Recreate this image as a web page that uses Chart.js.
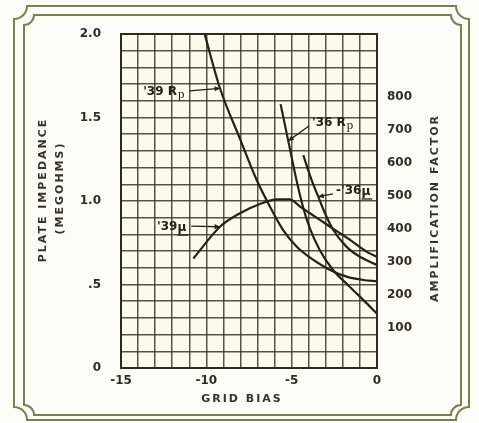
<!DOCTYPE html>
<html>
<head>
<meta charset="utf-8">
<script src="https://cdn.jsdelivr.net/npm/chart.js@4/dist/chart.umd.min.js"></script>
<style>
  html, body { margin: 0; padding: 0; background: #fdfdf7; }
  #caixa { position: relative; width: 479px; height: 423px; }
</style>
</head>
<body>
<div id="caixa"><canvas id="grafico" width="479" height="423"></canvas></div>
<script>
// --- leituras do gráfico (polarização de grade no eixo X) ---
const rp39Bias = [-10.1, -9.2, -8.0, -7.05, -6.27, -5.5, -4.7, -3.73, -2.75, -1.78, -0.8, 0];
const rp39Megohms = [2.0, 1.675, 1.365, 1.126, 0.966, 0.826, 0.726, 0.647, 0.587, 0.547, 0.527, 0.52];

const mu39Bias = [-10.76, -9.2, -8.03, -6.86, -5.88, -5.1, -4.51, -3.93, -2.75, -1.58, -0.6, 0];
const mu39Factor = [311, 407, 448, 476, 490, 490, 468, 448, 407, 367, 331, 316];

const rp36Bias = [-5.65, -5.2, -4.75, -4.35, -3.95, -3.35, -2.6, -1.6, -0.6, 0];
const rp36Megohms = [1.58, 1.36, 1.14, 0.97, 0.84, 0.705, 0.59, 0.487, 0.387, 0.325];

const mu36Bias = [-4.32, -3.83, -3.44, -3.05, -2.56, -1.78, -1.0, 0];
const mu36Factor = [624, 548, 498, 448, 397, 346, 316, 291];

// rótulos dos eixos
const biasTicks = [-15, -10, -5, 0];
const impedanceTicks = [0, 0.5, 1.0, 1.5, 2.0];
const impedanceLabels = ['0', '.5', '1.0', '1.5', '2.0'];
const factorTicks = [100, 200, 300, 400, 500, 600, 700, 800];

// nomes das curvas (texto, sufixo, ponto do texto em bias/megohms, curva e ponto alvo)
const noteNames = ["'39 R", "'36 R", "-'36", "'39"];
const noteSuffix = ['p', 'p', 'µ', 'µ'];
const noteBias = [-13.7, -3.81, -2.4, -12.89];
const noteLevel = [1.653, 1.467, 1.06, 0.844];
const noteDataset = [0, 2, 3, 1];
const notePoint = [1, 1, 2, 1];
const noteSide = ['right', 'left', 'left', 'right'];

const tinta = '#22221a';
const fonte = '"DejaVu Sans", Verdana, sans-serif';

function pontos(xs, ys) {
  return xs.map((x, i) => ({ x: x, y: ys[i] }));
}

function curva(xs, ys, eixo) {
  return {
    data: pontos(xs, ys),
    yAxisID: eixo,
    borderColor: tinta,
    borderWidth: 2.2,
    pointRadius: 0,
    fill: false,
    cubicInterpolationMode: 'monotone'
  };
}

// moldura com cantos recortados
function moldura(ctx, l, t, r, b, rad) {
  ctx.beginPath();
  ctx.moveTo(l + rad, t);
  ctx.lineTo(r - rad, t);
  ctx.arc(r, t, rad, Math.PI, Math.PI / 2, true);
  ctx.lineTo(r, b - rad);
  ctx.arc(r, b, rad, -Math.PI / 2, -Math.PI, true);
  ctx.lineTo(l + rad, b);
  ctx.arc(l, b, rad, 0, -Math.PI / 2, true);
  ctx.lineTo(l, t + rad);
  ctx.arc(l, t, rad, Math.PI / 2, 0, true);
  ctx.closePath();
  ctx.stroke();
}

const fundoPlugin = {
  id: 'fundo',
  beforeDraw(chart) {
    const ctx = chart.ctx;
    const a = chart.chartArea;
    ctx.save();
    ctx.fillStyle = '#fdfdf7';
    ctx.fillRect(0, 0, chart.width, chart.height);
    ctx.strokeStyle = '#7b8052';
    ctx.lineWidth = 2;
    moldura(ctx, 14, 6, 469, 420, 13);
    moldura(ctx, 24, 15, 461, 415, 10);
    ctx.fillStyle = '#fbfcee';
    ctx.fillRect(a.left, a.top, a.right - a.left, a.bottom - a.top);
    ctx.restore();
  },
  afterDraw(chart) {
    const ctx = chart.ctx;
    const a = chart.chartArea;
    ctx.save();
    // borda do gráfico
    ctx.strokeStyle = '#2a2a20';
    ctx.lineWidth = 2;
    ctx.strokeRect(a.left, a.top, a.right - a.left, a.bottom - a.top);

    // títulos dos eixos
    ctx.fillStyle = '#33332a';
    ctx.font = 'bold 11px ' + fonte;
    ctx.letterSpacing = '2px';
    ctx.textAlign = 'center';
    ctx.textBaseline = 'middle';
    const meioY = (a.top + a.bottom) / 2;
    ctx.fillText('GRID BIAS', (a.left + a.right) / 2 - 7, a.bottom + 31);

    ctx.save();
    ctx.translate(a.left - 78, meioY - 11);
    ctx.rotate(-Math.PI / 2);
    ctx.fillText('PLATE IMPEDANCE', 0, 0);
    ctx.restore();

    ctx.save();
    ctx.translate(a.left - 61, meioY - 13);
    ctx.rotate(-Math.PI / 2);
    ctx.fillText('(MEGOHMS)', 0, 0);
    ctx.restore();

    ctx.save();
    ctx.translate(a.right + 58, meioY + 7);
    ctx.rotate(-Math.PI / 2);
    ctx.fillText('AMPLIFICATION FACTOR', 0, 0);
    ctx.restore();
    ctx.restore();
  },
  afterDatasetsDraw(chart) {
    const ctx = chart.ctx;
    const sx = chart.scales.x;
    const sy = chart.scales.y;
    ctx.save();
    ctx.fillStyle = tinta;
    ctx.strokeStyle = tinta;
    ctx.lineWidth = 1.3;
    ctx.textBaseline = 'middle';
    ctx.textAlign = 'left';
    noteNames.forEach((nome, i) => {
      const x0 = sx.getPixelForValue(noteBias[i]);
      const y0 = sy.getPixelForValue(noteLevel[i]);
      ctx.font = 'bold 12px ' + fonte;
      ctx.fillText(nome, x0, y0);
      let fim = x0 + ctx.measureText(nome).width;
      const suf = noteSuffix[i];
      if (suf === 'p') {
        ctx.font = '13px "Liberation Serif", serif';
        ctx.fillText(suf, fim + 1, y0 + 3);
        fim += ctx.measureText(suf).width + 1;
      } else {
        ctx.font = 'bold 12px ' + fonte;
        ctx.fillText(suf, fim, y0 + 1);
        const w = ctx.measureText(suf).width;
        ctx.beginPath();
        ctx.moveTo(fim, y0 + 8);
        ctx.lineTo(fim + w + 2, y0 + 8);
        ctx.stroke();
        fim += w;
      }
      // linha de chamada até a curva
      const alvo = chart.getDatasetMeta(noteDataset[i]).data[notePoint[i]];
      const ini = noteSide[i] === 'right' ? [fim + 5, y0 - 1] : [x0 - 3, y0 + 3];
      ctx.beginPath();
      ctx.moveTo(ini[0], ini[1]);
      ctx.lineTo(alvo.x, alvo.y);
      ctx.stroke();
      const ang = Math.atan2(alvo.y - ini[1], alvo.x - ini[0]);
      ctx.beginPath();
      ctx.moveTo(alvo.x, alvo.y);
      ctx.lineTo(alvo.x - 6 * Math.cos(ang - 0.45), alvo.y - 6 * Math.sin(ang - 0.45));
      ctx.lineTo(alvo.x - 6 * Math.cos(ang + 0.45), alvo.y - 6 * Math.sin(ang + 0.45));
      ctx.closePath();
      ctx.fill();
    });
    ctx.restore();
  }
};

const fonteTicks = { family: fonte, weight: 'bold', size: 12 };
const corGrade = 'rgba(52,56,40,0.85)';

new Chart(document.getElementById('grafico'), {
  type: 'line',
  data: {
    datasets: [
      curva(rp39Bias, rp39Megohms, 'y'),
      curva(mu39Bias, mu39Factor, 'y2'),
      curva(rp36Bias, rp36Megohms, 'y'),
      curva(mu36Bias, mu36Factor, 'y2')
    ]
  },
  options: {
    responsive: false,
    animation: false,
    devicePixelRatio: 1,
    layout: { padding: { top: 34, left: 0, right: 0, bottom: 0 } },
    plugins: { legend: { display: false }, tooltip: { enabled: false } },
    scales: {
      x: {
        type: 'linear',
        min: -15,
        max: 0,
        afterFit(s) { s.height = 55; },
        grid: { color: corGrade, lineWidth: 1.5, drawTicks: false },
        border: { display: false },
        ticks: {
          stepSize: 1,
          autoSkip: false,
          maxRotation: 0,
          padding: 6,
          color: '#2e2e22',
          font: fonteTicks,
          callback: (v) => biasTicks.includes(v) ? String(v) : ''
        }
      },
      y: {
        type: 'linear',
        position: 'left',
        min: 0,
        max: 2,
        afterFit(s) { s.width = 121; },
        grid: { color: corGrade, lineWidth: 1.5, drawTicks: false },
        border: { display: false },
        ticks: {
          stepSize: 0.1,
          autoSkip: false,
          padding: 20,
          color: '#2e2e22',
          font: fonteTicks,
          callback: (v) => {
            const k = Math.round(v * 2);
            return Math.abs(v - k / 2) < 1e-6 ? impedanceLabels[impedanceTicks.indexOf(k / 2)] : '';
          }
        }
      },
      y2: {
        type: 'linear',
        position: 'right',
        min: -21,
        max: 991,
        afterFit(s) { s.width = 102; },
        afterBuildTicks(s) { s.ticks = factorTicks.map(v => ({ value: v })); },
        grid: { display: false, drawTicks: false },
        border: { display: false },
        ticks: {
          autoSkip: false,
          padding: 10,
          color: '#2e2e22',
          font: fonteTicks
        }
      }
    }
  },
  plugins: [fundoPlugin]
});
</script>
</body>
</html>
